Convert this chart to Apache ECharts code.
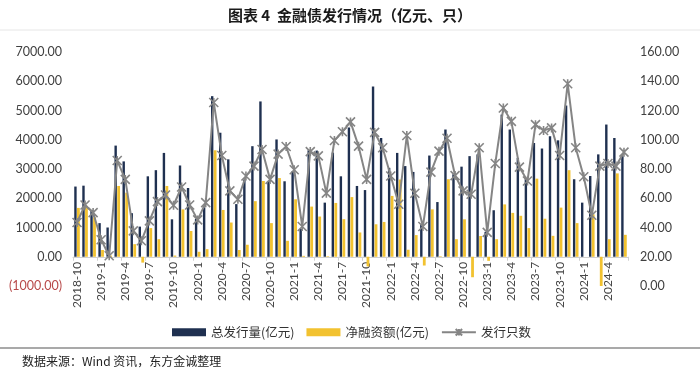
<!DOCTYPE html>
<html>
<head>
<meta charset="utf-8">
<script src="https://cdn.jsdelivr.net/npm/echarts@6/dist/echarts.min.js"></script>
<style>
html,body{margin:0;padding:0;background:#fff;}
#c{width:700px;height:372px;}
</style>
</head>
<body>
<div id="c"></div>
<script>
const categories = ['2018-10','2018-11','2018-12',
'2019-1','2019-2','2019-3','2019-4','2019-5','2019-6','2019-7','2019-8','2019-9','2019-10','2019-11','2019-12',
'2020-1','2020-2','2020-3','2020-4','2020-5','2020-6','2020-7','2020-8','2020-9','2020-10','2020-11','2020-12',
'2021-1','2021-2','2021-3','2021-4','2021-5','2021-6','2021-7','2021-8','2021-9','2021-10','2021-11','2021-12',
'2022-1','2022-2','2022-3','2022-4','2022-5','2022-6','2022-7','2022-8','2022-9','2022-10','2022-11','2022-12',
'2023-1','2023-2','2023-3','2023-4','2023-5','2023-6','2023-7','2023-8','2023-9','2023-10','2023-11','2023-12',
'2024-1','2024-2','2024-3','2024-4','2024-5','2024-6'];

const totalIssuance = [2400,2430,1600,1150,1000,3800,3260,1490,1030,2750,
2960,3550,1280,3120,2350,1300,1690,5490,4240,3330,
1800,2640,3780,5310,2590,4010,2580,2920,950,3640,
3630,1850,3560,2750,4420,2420,2280,5820,4060,3040,
3550,3100,2900,1110,3460,1870,4350,2820,3080,3440,
3500,850,1590,4860,4350,3380,2700,3890,3700,4120,
3980,5170,2650,1850,2760,3500,4520,4060,3440];

const netFinancing = [1670,1740,1350,230,40,2420,2190,430,-200,980,
600,2420,40,1620,880,170,260,3640,1600,1170,
230,410,1900,2590,1150,2690,545,1965,30,1715,
1375,20,1840,1285,2040,830,-330,1110,1190,2080,
2640,240,740,-300,1620,20,2650,600,1280,-700,
710,-140,600,1790,1500,1400,980,2670,1300,715,
1680,2960,1150,0,1450,-1000,600,2850,750];

const issueCount = [43.4,55.4,50.2,31.6,20.7,85.8,72.9,37.7,30.9,44.5,
57.7,62.2,55.2,67.7,55.4,45.2,57.0,125.5,89.2,65.0,
59.3,75.2,82.0,93.3,72.9,90.2,95.4,79.5,40.7,91.9,
89.0,63.5,99.5,105.5,112.2,95.6,72.9,105.0,94.5,75.2,
55.9,102.9,63.4,40.7,77.9,92.2,101.0,75.5,65.0,62.7,
94.5,36.7,83.8,121.7,112.6,81.3,71.8,110.3,106.3,108.1,
89.2,138.3,94.5,74.7,48.4,82.0,83.8,82.0,91.5];

const leftTicks = {min:-1000, max:7000, interval:1000};
const rightTicks = {min:0, max:160, interval:20};

const FONT = 'Lato, "Noto Sans CJK SC", sans-serif';
const CJK = '"Noto Sans CJK SC", sans-serif';
const starPath = 'path://M0,0L10,10M10,0L0,10M5,0L5,10';

const GRID_TOP = 52, GRID_BOTTOM = 86, H = 372;
const plotH = H - GRID_TOP - GRID_BOTTOM;
const zeroShift = plotH * (0 - leftTicks.min) / (leftTicks.max - leftTicks.min);

const chart = echarts.init(document.getElementById('c'), null, {renderer:'canvas'});
chart.setOption({
  animation:false,
  backgroundColor:'#fff',
  title:{
    text:'图表 4  金融债发行情况（亿元、只）',
    left:'center', top:3,
    textStyle:{fontFamily:CJK, fontSize:15, fontWeight:'bold', color:'#1a1a1a'}
  },
  graphic:[
    {type:'line', shape:{x1:0,y1:30,x2:700,y2:30}, style:{stroke:'#e6e6e6', lineWidth:1}},
    {type:'line', shape:{x1:0,y1:348,x2:700,y2:348}, style:{stroke:'#8c8c8c', lineWidth:1.5}},
    {type:'text', left:22, top:355, style:{text:'数据来源：Wind 资讯，东方金诚整理', fontFamily:CJK, fontSize:12, fill:'#222'}}
  ],
  legend:{
    top:321, left:167,
    itemWidth:34, itemHeight:8, itemGap:12,
    textStyle:{fontFamily:CJK, fontSize:12.5, color:'#333'},
    data:[
      {name:'总发行量(亿元)', icon:'rect'},
      {name:'净融资额(亿元)', icon:'rect'},
      {name:'发行只数'}
    ]
  },
  grid:{left:73, right:72, top:GRID_TOP, bottom:GRID_BOTTOM, containLabel:false},
  xAxis:{
    type:'category',
    data:categories,
    boundaryGap:true,
    offset:-zeroShift,
    axisLine:{onZero:false, lineStyle:{color:'#d0d0d0', width:1}},
    axisTick:{show:true, interval:2, length:4, lineStyle:{color:'#d0d0d0'}},
    axisLabel:{interval:2, rotate:90, margin:5, fontFamily:FONT, fontSize:12, color:'#454545'}
  },
  yAxis:[
    {
      type:'value', min:leftTicks.min, max:leftTicks.max, interval:leftTicks.interval,
      splitLine:{show:false}, axisLine:{show:false}, axisTick:{show:false},
      axisLabel:{
        margin:11, fontFamily:FONT, fontSize:12.5, color:'#404040',
        formatter:function(v){ return v<0 ? '{neg|(' + Math.abs(v).toFixed(2) + ')}' : v.toFixed(2); },
        rich:{neg:{color:'#b84a4a', fontFamily:FONT, fontSize:12.5}}
      }
    },
    {
      type:'value', min:rightTicks.min, max:rightTicks.max, interval:rightTicks.interval,
      splitLine:{show:false}, axisLine:{show:false}, axisTick:{show:false},
      axisLabel:{margin:12, fontFamily:FONT, fontSize:12.5, color:'#404040',
        formatter:function(v){ return v.toFixed(2); }}
    }
  ],
  series:[
    {
      name:'总发行量(亿元)', type:'bar', data:totalIssuance, yAxisIndex:0,
      barWidth:2.4, barGap:'15%',
      itemStyle:{color:'#1f3050'}
    },
    {
      name:'净融资额(亿元)', type:'bar', data:netFinancing, yAxisIndex:0,
      barWidth:2.8, barGap:'15%',
      itemStyle:{color:'#f2c230'}
    },
    {
      name:'发行只数', type:'line', data:issueCount, yAxisIndex:1,
      symbol:starPath, symbolSize:9, showAllSymbol:true,
      lineStyle:{color:'#858585', width:2},
      itemStyle:{color:'#858585', borderColor:'#858585', borderWidth:1.6}
    }
  ]
});
</script>
</body>
</html>
